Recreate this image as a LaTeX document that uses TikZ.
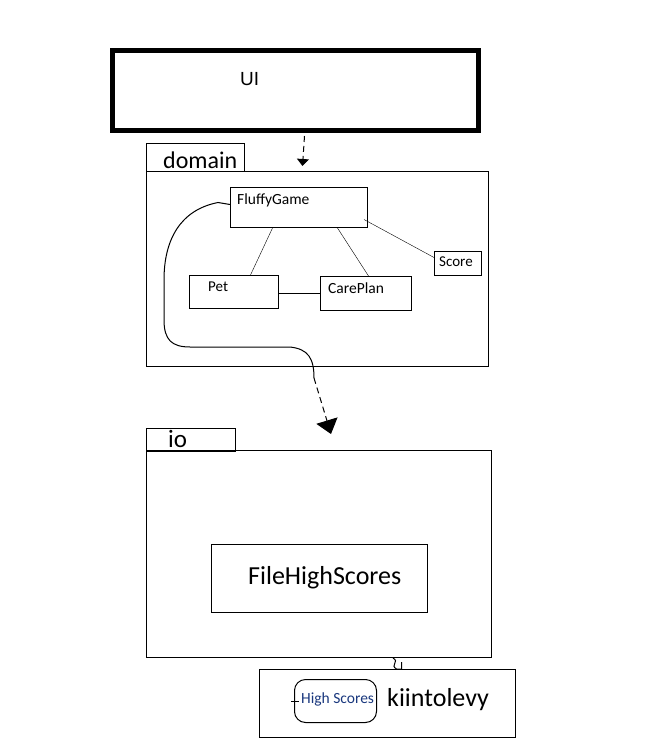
\documentclass[tikz,border=0pt]{standalone}
\usepackage{fontspec}
\setmainfont{Carlito}
\newfontfamily\uifont{Liberation Sans}
\usetikzlibrary{arrows.meta, positioning}

\begin{document}
\begin{tikzpicture}[x=1pt, y=-1pt,
    box/.style={draw, line width=1pt, inner sep=0pt, anchor=north west},
    lbl/.style={inner sep=0pt, anchor=base west},
    dep/.style={line width=1pt, dash pattern=on 6pt off 4pt}]
    \useasboundingbox (0,0) rectangle (666,752);

    % UI layer
    \node[box, line width=5pt, minimum width=366pt, minimum height=80pt] (ui) at (110,48) {};
    \node[lbl, font=\uifont\fontsize{19}{22}\selectfont] (uitxt) at ([xshift=130pt,yshift=-37pt]ui.north west) {UI};

    % domain package
    \node[box, minimum width=98pt, minimum height=28pt] (domaintab) at (146,143) {};
    \node[box, minimum width=342pt, minimum height=195pt] (domain) at (146,171) {};
    \node[lbl, font=\fontsize{24}{28}\selectfont] (domaintxt) at ([xshift=17pt,yshift=-25pt]domaintab.north west) {domain};

    % classes in domain
    \node[box, minimum width=137pt, minimum height=40pt] (fluffy) at (230,187) {};
    \node[box, minimum width=89pt, minimum height=33pt] (pet) at (189,275) {};
    \node[box, minimum width=91pt, minimum height=34pt] (careplan) at (320,276) {};
    \node[box, minimum width=47pt, minimum height=24pt] (score) at (434,251) {};
    \node[lbl, font=\fontsize{15.5}{18}\selectfont] at ([xshift=7pt,yshift=-17pt]fluffy.north west) {FluffyGame};
    \node[lbl, font=\fontsize{15}{18}\selectfont] at ([xshift=19pt,yshift=-16pt]pet.north west) {Pet};
    \node[lbl, font=\fontsize{15.5}{18}\selectfont] at ([xshift=8pt,yshift=-17pt]careplan.north west) {CarePlan};
    \node[lbl, font=\fontsize{15}{18}\selectfont] at ([xshift=5pt,yshift=-15pt]score.north west) {Score};

    % associations
    \draw ([xshift=-26.5pt]fluffy.south) -- ([xshift=16.5pt]pet.north);
    \draw ([xshift=38.5pt]fluffy.south) -- ([xshift=2.5pt]careplan.north);
    \draw ([xshift=-4pt,yshift=-12pt]fluffy.east) -- ([yshift=6pt]score.west);
    \draw ([yshift=-1.5pt]pet.east) -- (careplan.west);

    % io package
    \node[box, minimum width=89pt, minimum height=23pt] (iotab) at (146,428) {};
    \node[box, minimum width=345pt, minimum height=207pt] (io) at (146,450) {};
    \node[lbl, font=\fontsize{25}{28}\selectfont] at ([xshift=22pt,yshift=-19pt]iotab.north west) {io};
    \node[box, minimum width=216pt, minimum height=68pt] (filehs) at (211,544) {};
    \node[lbl, font=\fontsize{26}{30}\selectfont] at ([xshift=37pt,yshift=-40pt]filehs.north west) {FileHighScores};

    % disk
    \node[box, minimum width=256pt, minimum height=68pt] (disk) at (259,669) {};
    \node[box, rounded corners=11pt, minimum width=82pt, minimum height=43pt] (hs) at (294,679) {};
    \node[lbl, font=\fontsize{15.5}{18}\selectfont, text={rgb,255:red,25;green,55;blue,125}] at ([xshift=7pt,yshift=-24pt]hs.north west) {High Scores};
    \node[lbl, font=\fontsize{26}{30}\selectfont] at ([xshift=128pt,yshift=-37pt]disk.north west) {kiintolevy};
    \draw ([xshift=-3pt]hs.west) -- ++(8,0);

    % dependencies
    \draw[dep, -{Triangle[width=12pt,length=7pt]}] ([xshift=9pt,yshift=-3pt]ui.south) -- ([xshift=-15pt,yshift=5pt]domain.north);
    \draw[line width=1pt] ([yshift=3pt]fluffy.west) -- ++(-12,-2)
        .. controls (180,210) and (164,240) .. (164,280) -- (164,320)
        .. controls (164,340) and (172,347) .. (190,347) -- (290,347)
        .. controls (308,349) and (314,358) .. (314,378) coordinate (bend);
    \draw[dep, -{Triangle[width=22pt,length=14pt]}] (bend) -- ([xshift=12pt,yshift=16pt]io.north);
    \draw[line width=1pt] ([xshift=74pt]io.south) .. controls +(7,4) and +(-7,-4) .. ([xshift=9pt]disk.north) -- ++(5,0) -- ++(0,-7);
\end{tikzpicture}
\end{document}
